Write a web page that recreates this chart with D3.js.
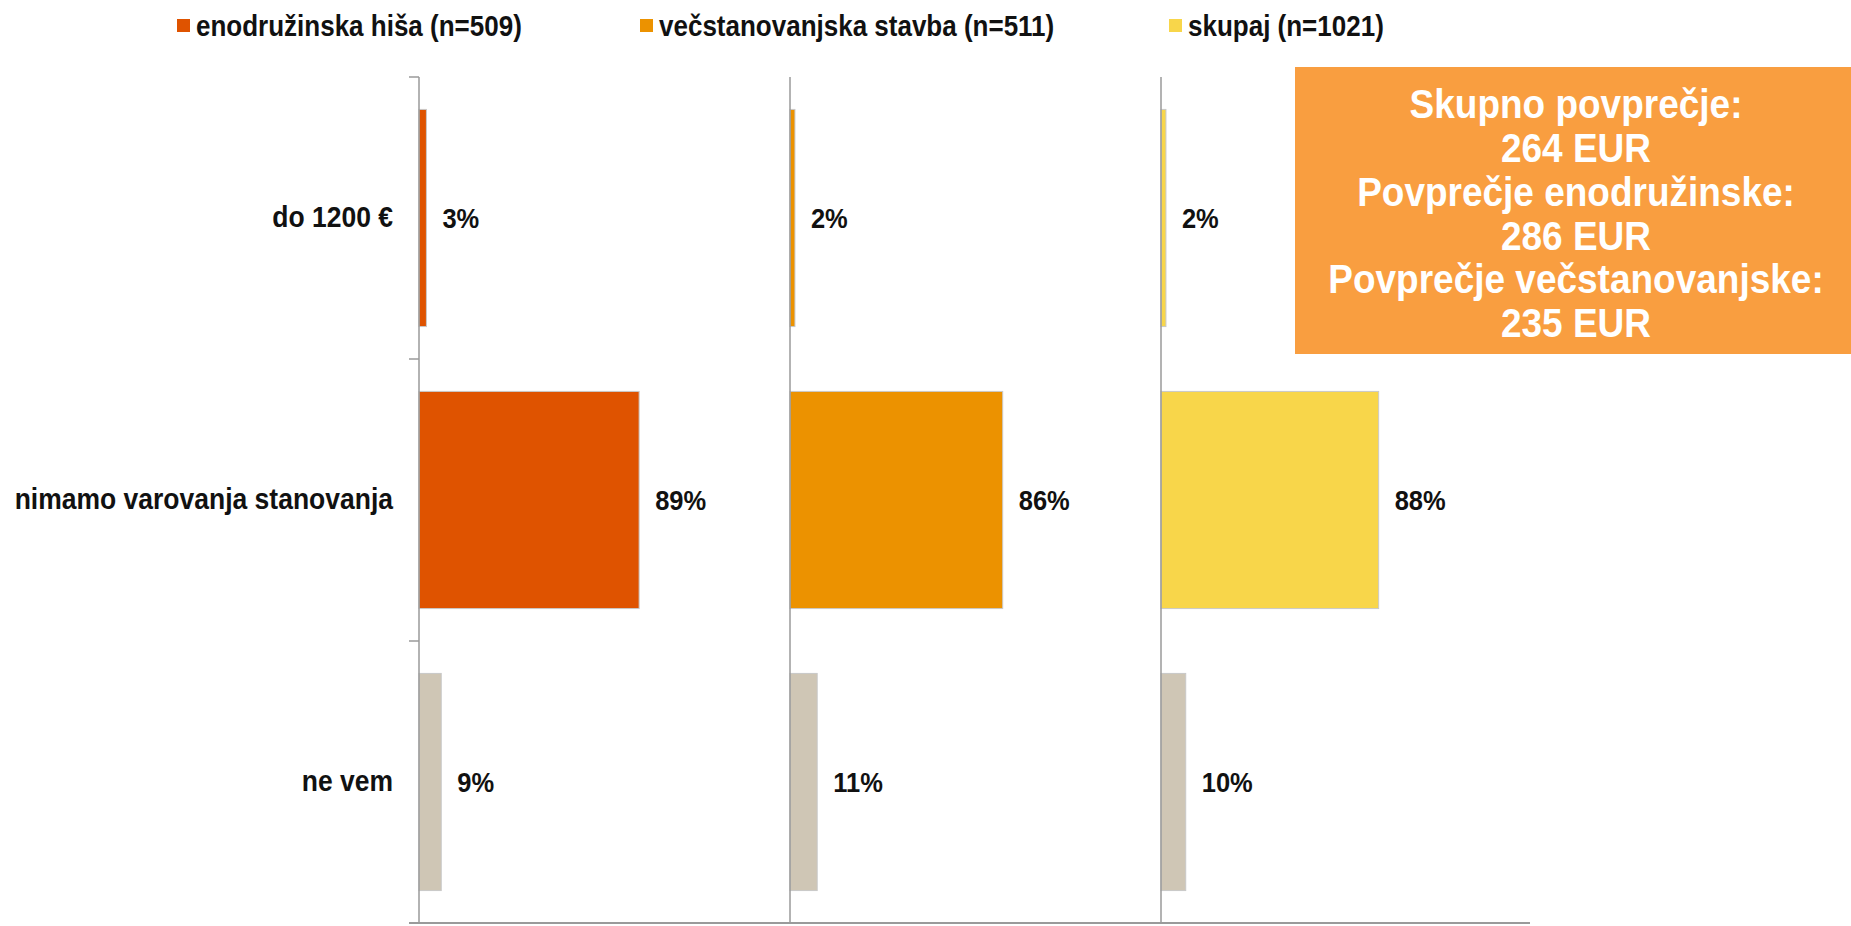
<!DOCTYPE html>
<html>
<head>
<meta charset="utf-8">
<script src="https://cdn.jsdelivr.net/npm/d3@7/dist/d3.min.js"></script>
<style>
  html, body { margin: 0; padding: 0; background: #ffffff; }
  svg { display: block; font-family: "Liberation Sans", Arial, Helvetica, sans-serif; }
</style>
</head>
<body>
<svg id="chart" width="1851" height="926"></svg>
<script>
// ---- data ----
const categories = ["do 1200 €", "nimamo varovanja stanovanja", "ne vem"];
const seriesNames = ["enodružinska hiša (n=509)", "večstanovanjska stavba (n=511)", "skupaj (n=1021)"];
const enodruzinska = [3, 89, 9];
const vecstanovanjska = [2, 86, 11];
const skupaj = [2, 88, 10];
const boxLines = ["Skupno povprečje:", "264 EUR", "Povprečje enodružinske:", "286 EUR", "Povprečje večstanovanjske:", "235 EUR"];

// ---- styles / layout ----
const seriesColors = ["#DF5300", "#EC9200", "#F8D64A"];
const neVemColor = "#CFC6B5";
const axisColor = "#9a9a9a";
const seriesValues = [enodruzinska, vecstanovanjska, skupaj];
const stretch = 1.1;

const svg = d3.select("#chart");
const yTop = 77, yBottom = 923;
const panelX = [419, 790, 1161];
const panelW = 371;

const y = d3.scaleBand()
  .domain(categories)
  .range([yTop, yBottom])
  .paddingInner(0.23)
  .paddingOuter(0.115);

function place(sel, fx, fy) {
  sel.attr("transform", (d, k) => `translate(${fx(d, k)},${fy(d, k)}) scale(1,${stretch})`);
}

// legend
const legendX = [177, 640, 1169];
const legend = svg.append("g");
seriesNames.forEach((name, i) => {
  const g = legend.append("g").attr("transform", `translate(${legendX[i]},0)`);
  g.append("rect").attr("x", 0).attr("y", 19).attr("width", 13).attr("height", 13)
    .attr("fill", seriesColors[i]);
  g.append("text").attr("dy", "0.35em")
    .call(place, () => 19, () => 26)
    .attr("font-size", 26).attr("font-weight", "bold").attr("fill", "#111")
    .text(name);
});

// panels
seriesValues.forEach((vals, i) => {
  const x = d3.scaleLinear().domain([0, 150]).range([panelX[i], panelX[i] + panelW]);
  const g = svg.append("g");

  g.selectAll("rect.bar")
    .data(categories.map((c, j) => ({ c, v: vals[j], j })))
    .join("rect")
    .attr("class", "bar")
    .attr("x", x(0))
    .attr("y", d => y(d.c))
    .attr("width", d => x(d.v) - x(0))
    .attr("height", y.bandwidth())
    .attr("fill", d => d.j === 2 ? neVemColor : seriesColors[i])
    .attr("stroke", "#c9c9c9")
    .attr("stroke-width", 1);

  g.selectAll("text.val")
    .data(categories.map((c, j) => ({ c, v: vals[j] })))
    .join("text")
    .attr("class", "val")
    .call(place, d => x(d.v) + 16, d => y(d.c) + y.bandwidth() / 2)
    .attr("dy", "0.35em")
    .attr("font-size", 25.5)
    .attr("font-weight", "bold")
    .attr("fill", "#111")
    .text(d => d.v + "%");

  // vertical axis line
  const ax = svg.append("g").attr("transform", `translate(${x(0)},0)`);
  if (i === 0) {
    ax.call(d3.axisLeft(y).tickSize(0).tickPadding(26))
      .call(a => a.select(".domain").remove())
      .call(a => a.selectAll("text")
        .attr("font-size", 26.5).attr("font-weight", "bold").attr("fill", "#111")
        .attr("transform", `scale(1,${stretch})`)
        .attr("font-family", "\"Liberation Sans\", Arial, sans-serif"));
    // boundary ticks
    const bounds = [yTop].concat(categories.map(c => y(c) + y.bandwidth() + y.step() * y.paddingInner() / 2));
    bounds[bounds.length - 1] = yBottom;
    ax.selectAll("line.tk").data(bounds).join("line").attr("class", "tk")
      .attr("x1", -10).attr("x2", 0).attr("y1", d => d).attr("y2", d => d)
      .attr("stroke", axisColor).attr("stroke-width", 1.5);
  }
  ax.append("line").attr("x1", 0).attr("x2", 0).attr("y1", yTop).attr("y2", yBottom)
    .attr("stroke", axisColor).attr("stroke-width", 1.5);
});

// bottom baseline
svg.append("line")
  .attr("x1", panelX[0] - 10).attr("x2", panelX[2] + panelW - 2)
  .attr("y1", yBottom).attr("y2", yBottom)
  .attr("stroke", axisColor).attr("stroke-width", 2);

// info box
const box = svg.append("g");
box.append("rect").attr("x", 1295).attr("y", 67).attr("width", 556).attr("height", 287)
  .attr("fill", "#F99E40");
box.selectAll("text").data(boxLines).join("text")
  .call(place, () => 1576, (d, k) => 104 + k * 43.8)
  .attr("dy", "0.35em")
  .attr("text-anchor", "middle")
  .attr("font-size", 37)
  .attr("font-weight", "bold")
  .attr("fill", "#ffffff")
  .text(d => d);
</script>
</body>
</html>
